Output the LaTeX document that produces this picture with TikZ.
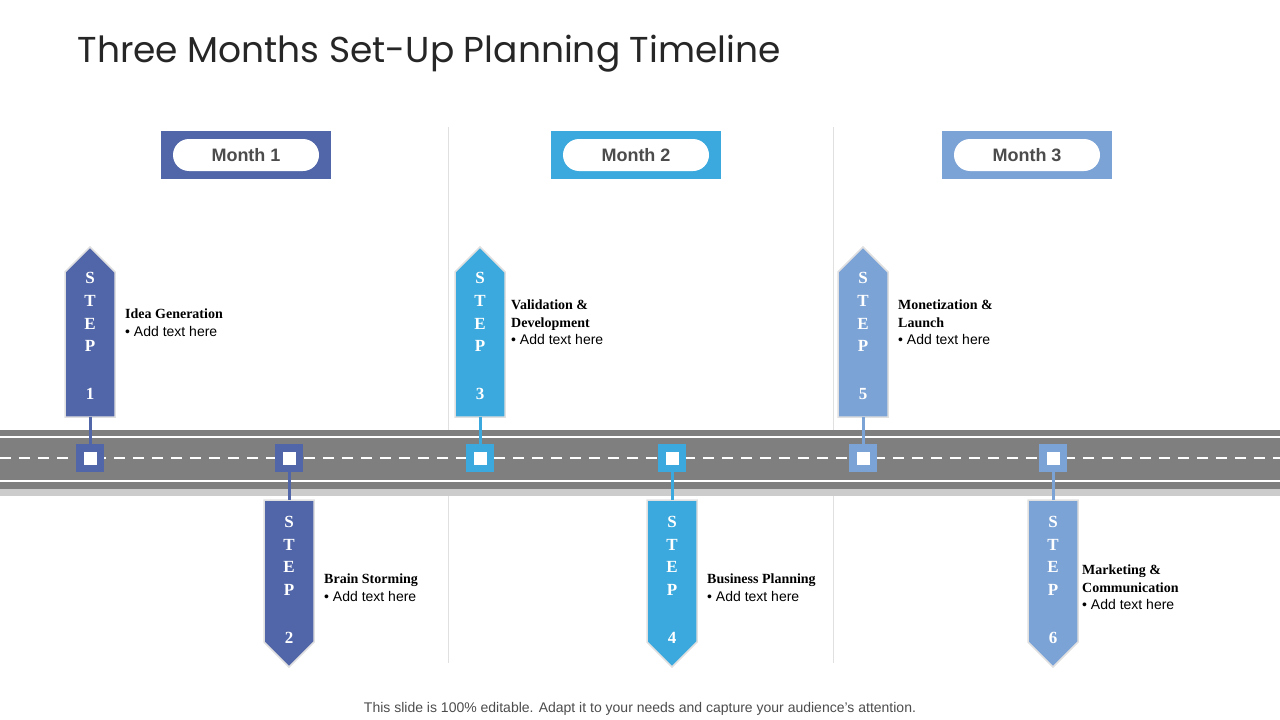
\documentclass[tikz,border=0pt]{standalone}
\usepackage{fontspec}
\setmainfont{Liberation Serif}
\setsansfont{Liberation Sans}
\newfontfamily\titlefont{Poppins}
\definecolor{mone}{HTML}{5166A8}
\definecolor{mtwo}{HTML}{3BA9DD}
\definecolor{mthree}{HTML}{7BA3D6}
\definecolor{road}{HTML}{7F7F7F}
\tikzset{
  stemline/.style={line width=3pt},
  stoplabel/.style={font=\bfseries\fontsize{17}{17}\selectfont, text=white},
  steptext/.style={anchor=north west, align=left, inner sep=0pt, font=\fontsize{14}{17.5}\selectfont},
  monthbox/.style={minimum width=170pt, minimum height=48pt, inner sep=0pt},
  monthpill/.style={fill=white, rounded corners=16pt, minimum width=146pt, minimum height=32pt,
    font=\sffamily\bfseries\fontsize{18}{18}\selectfont, text=black!70},
}
% up arrow: name, x, colour, number
\newcommand{\stepup}[4]{
  \fill[#3, draw=black!12, line width=1.5pt] (#2-25,417) -- (#2-25,272) -- (#2,247) -- (#2+25,272) -- (#2+25,417) -- cycle;
  \coordinate (#1) at (#2,417);
  \foreach \ch/\yy in {S/278,T/301,E/324,P/346,#4/394}
    \node[stoplabel] at (#2,\yy) {\ch};
}
% down arrow: name, x, colour, number
\newcommand{\stepdown}[4]{
  \fill[#3, draw=black!12, line width=1.5pt] (#2-25,500) -- (#2-25,642) -- (#2,667) -- (#2+25,642) -- (#2+25,500) -- cycle;
  \coordinate (#1) at (#2,500);
  \foreach \ch/\yy in {S/522,T/545,E/567,P/590,#4/638}
    \node[stoplabel] at (#2,\yy) {\ch};
}
\begin{document}
\begin{tikzpicture}[x=1pt, y=-1pt]
\useasboundingbox (0,0) rectangle (1280,720);

\node[anchor=west, font=\titlefont\fontsize{36}{36}\selectfont, text=black!85] (title) at (74,54) {Three Months Set-Up Planning Timeline};

% dividers
\draw[black!12] (448,127) -- (448,663);
\draw[black!12] (833,127) -- (833,663);

% months
\node[monthbox, fill=mone] (m1) at (246,155) {};
\node[monthpill] (p1) at (m1) {Month 1};
\node[monthbox, fill=mtwo] (m2) at (636,155) {};
\node[monthpill] (p2) at (m2) {Month 2};
\node[monthbox, fill=mthree] (m3) at (1027,155) {};
\node[monthpill] (p3) at (m3) {Month 3};

% road
\fill[black!20] (0,484) rectangle (1280,496);
\fill[road] (0,430) rectangle (1280,489);
\draw[white, line width=1.5pt] (0,437) -- (1280,437);
\draw[white, line width=1.5pt] (0,481) -- (1280,481);
\draw[white, line width=1.5pt, dash pattern=on 11pt off 8pt] (0,458) -- (1280,458);

% steps
\stepup{a1}{90}{mone}{1}
\stepdown{a2}{289}{mone}{2}
\stepup{a3}{480}{mtwo}{3}
\stepdown{a4}{672}{mtwo}{4}
\stepup{a5}{863}{mthree}{5}
\stepdown{a6}{1053}{mthree}{6}

\foreach \n/\xx/\cc in {1/90/mone,2/289/mone,3/480/mtwo,4/672/mtwo,5/863/mthree,6/1053/mthree}{
  \node[fill=\cc, minimum size=28pt, inner sep=0pt] (s\n) at (\xx,458) {};
  \draw[\cc, stemline] (a\n) -- (s\n);
  \node[fill=white, minimum size=13pt, inner sep=0pt] at (s\n) {};
}

% texts
\node[steptext] (t1) at (125,309) {\textbf{Idea Generation}\\\sffamily• Add text here};
\node[steptext] (t2) at (324,574) {\textbf{Brain Storming}\\\sffamily• Add text here};
\node[steptext] (t3) at (511,300) {\textbf{Validation \&}\\\textbf{Development}\\\sffamily• Add text here};
\node[steptext] (t4) at (707,574) {\textbf{Business Planning}\\\sffamily• Add text here};
\node[steptext] (t5) at (898,300) {\textbf{Monetization \&}\\\textbf{Launch}\\\sffamily• Add text here};
\node[steptext] (t6) at (1082,565) {\textbf{Marketing \&}\\\textbf{Communication}\\\sffamily• Add text here};

\node[font=\sffamily\fontsize{14}{14}\selectfont, text=black!70] (foot) at (640,709) {This slide is 100\% editable. Adapt it to your needs and capture your audience's attention.};
\end{tikzpicture}
\end{document}
